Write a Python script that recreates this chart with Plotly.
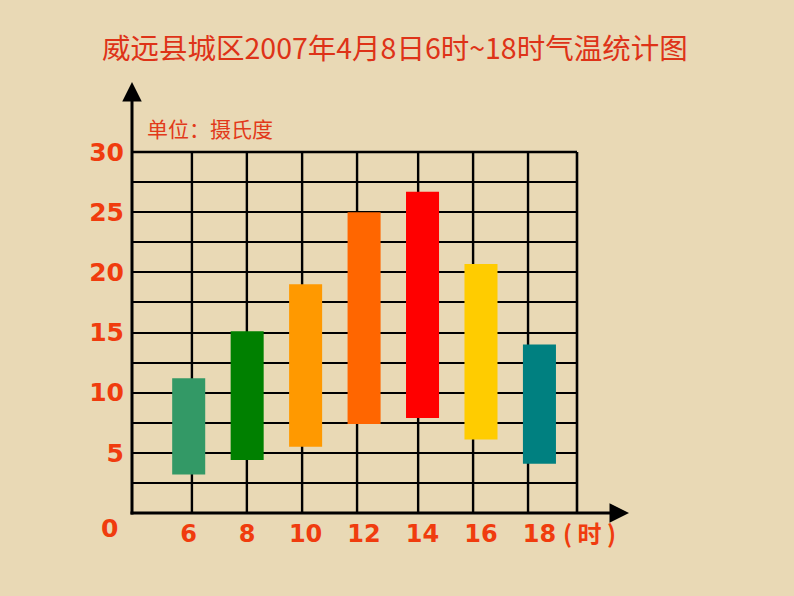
import plotly.graph_objects as go

# ---- data ----
hours = [6, 8, 10, 12, 14, 16, 18]
hour_labels = ["6", "8", "10", "12", "14", "16", "18"]
low_temps = [3.2, 4.4, 5.5, 7.4, 7.9, 6.1, 4.1]
high_temps = [11.2, 15.1, 19.0, 25.0, 26.7, 20.7, 14.0]
bar_colors = ["#339966", "#008000", "#FF9900", "#FF6600", "#FF0000", "#FFCC00", "#008080"]
y_ticks = [5, 10, 15, 20, 25, 30]
title_text = "威远县城区2007年4月8日6时~18时气温统计图"
unit_text = "单位：摄氏度"
x_unit_text = "( 时 )"

# vertical grid line positions (hand-drawn grid in the original)
vgrid = [6.11, 7.99, 9.88, 11.76, 13.85, 15.73, 17.61]

LABEL_RED = "#F03C0E"
BG = "#E9D9B5"

fig = go.Figure()
fig.add_trace(go.Bar(
    x=hours,
    base=low_temps,
    y=[h - l for h, l in zip(high_temps, low_temps)],
    width=1.13,
    marker=dict(color=bar_colors, line=dict(width=0)),
    hoverinfo="skip",
))

shapes = []
for gx in vgrid:
    shapes.append(dict(type="line", xref="x", yref="paper", x0=gx, x1=gx, y0=0, y1=1,
                       line=dict(color="black", width=2.4), layer="below"))
# right and top border
shapes.append(dict(type="line", xref="paper", yref="paper", x0=1, x1=1, y0=0, y1=1,
                   line=dict(color="black", width=2.6), layer="below"))
shapes.append(dict(type="line", xref="paper", yref="paper", x0=0, x1=1, y0=1, y1=1,
                   line=dict(color="black", width=2.6), layer="below"))


def px(xp):
    return (xp - 132) / 445


def py(yp):
    return (513 - yp) / 361


annotations = [
    # x axis with arrow
    dict(xref="paper", yref="paper", x=px(629), y=0, ax=-500, ay=0, showarrow=True,
         arrowhead=2, arrowsize=1.3, arrowwidth=3, arrowcolor="black", text=""),
    # y axis with arrow
    dict(xref="paper", yref="paper", x=0, y=py(82), ax=0, ay=434, showarrow=True,
         arrowhead=2, arrowsize=1.3, arrowwidth=3, arrowcolor="black", text=""),
    dict(xref="paper", yref="paper", x=px(395), y=py(47), xanchor="center", yanchor="middle",
         text=title_text, showarrow=False,
         font=dict(family="Noto Sans CJK SC", size=28.5, color="#DE3318")),
    dict(xref="paper", yref="paper", x=px(210), y=py(128), xanchor="center", yanchor="middle",
         text=unit_text, showarrow=False,
         font=dict(family="Noto Sans CJK SC", size=21, color="#E2391A")),
    dict(xref="paper", yref="paper", x=px(109), y=py(528), xanchor="center", yanchor="middle",
         text="0", showarrow=False,
         font=dict(family="DejaVu Sans", size=25, color=LABEL_RED, weight="bold")),
    dict(xref="paper", yref="paper", x=px(589), y=py(532), xanchor="center", yanchor="middle",
         text=x_unit_text, showarrow=False,
         font=dict(family="Noto Sans CJK SC", size=24, color=LABEL_RED, weight="bold")),
]

fig.update_layout(
    width=794, height=596,
    margin=dict(l=132, r=217, t=152, b=83),
    paper_bgcolor=BG, plot_bgcolor=BG,
    showlegend=False,
    shapes=shapes,
    annotations=annotations,
    xaxis=dict(range=[4.06, 19.285], tickvals=hours, ticktext=hour_labels,
               showgrid=False, zeroline=False, showline=False,
               ticks="", ticklen=0, ticklabelstandoff=4,
               tickfont=dict(family="DejaVu Sans", size=24, color=LABEL_RED, weight="bold"),
               fixedrange=True),
    yaxis=dict(range=[0, 30], tickvals=y_ticks,
               showgrid=True, gridcolor="black", gridwidth=2.4,
               minor=dict(dtick=2.5, tick0=0, showgrid=True, gridcolor="black", gridwidth=2.4),
               zeroline=False, showline=False,
               ticks="outside", ticklen=2, tickcolor="rgba(0,0,0,0)",
               tickfont=dict(family="DejaVu Sans", size=25, color=LABEL_RED, weight="bold"),
               fixedrange=True),
)

fig.write_html(
    "out.html",
    config={"displayModeBar": False},
    post_script="document.body.style.margin='0';document.body.style.background='%s';" % BG,
)
